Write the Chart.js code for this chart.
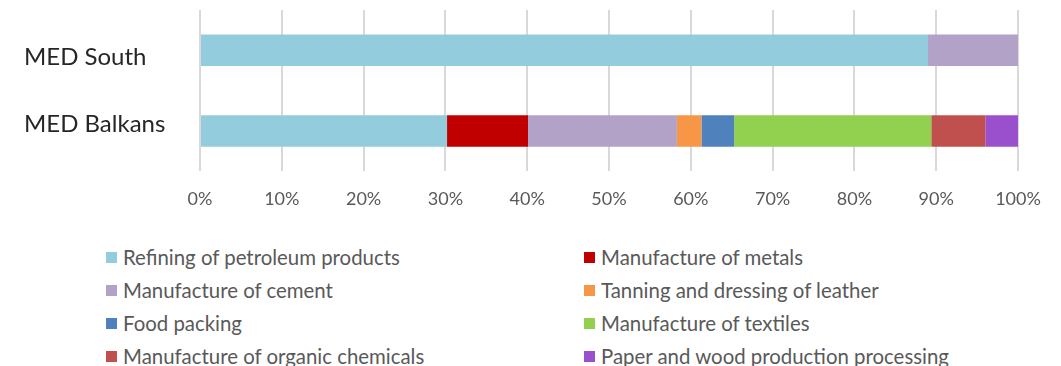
<!DOCTYPE html>
<html>
<head>
<meta charset="utf-8">
<script src="https://cdn.jsdelivr.net/npm/chart.js@4"></script>
<style>
  html, body { margin: 0; padding: 0; background: #fff; overflow: hidden; }
  #wrap { position: relative; width: 1061px; height: 366px; }
  #chart { position: absolute; left: 0; top: 0; }
  #legend {
    position: absolute; left: 106px; top: 245px;
    display: grid; grid-template-columns: 478px 440px; row-gap: 9px;
    font-family: Lato, sans-serif; font-size: 20.4px; color: #595959;
  }
  .item { display: flex; align-items: center; height: 24px; white-space: nowrap; }
  .box { width: 11px; height: 11px; margin-right: 6px; flex: none; }
</style>
</head>
<body>
<div id="wrap">
  <canvas id="chart" width="1061" height="233"></canvas>
  <div id="legend"></div>
</div>
<script>
const regions = ['MED South', 'MED Balkans'];

const sectors = [
  'Refining of petroleum products',
  'Manufacture of metals',
  'Manufacture of cement',
  'Tanning and dressing of leather',
  'Food packing',
  'Manufacture of textiles',
  'Manufacture of organic chemicals',
  'Paper and wood production processing'
];

const sectorColors = [
  '#93CDDD', '#C00000', '#B3A2C7', '#F79646',
  '#4F81BD', '#92D050', '#C0504D', '#9A50CD'
];

// share of each sector (%) per region: [MED South, MED Balkans]
const refining   = [89.0, 30.2];
const metals     = [0, 9.9];
const cement     = [11.0, 18.2];
const leather    = [0, 3.0];
const food       = [0, 4.0];
const textiles   = [0, 24.1];
const organic    = [0, 6.6];
const paper      = [0, 4.0];

const xTicks = [0, 10, 20, 30, 40, 50, 60, 70, 80, 90, 100];

const series = [refining, metals, cement, leather, food, textiles, organic, paper];

const chart = new Chart(document.getElementById('chart'), {
  type: 'bar',
  data: {
    labels: regions,
    datasets: series.map((vals, i) => ({
      label: sectors[i],
      data: vals,
      backgroundColor: sectorColors[i],
      borderWidth: 0,
      barPercentage: 0.39,
      categoryPercentage: 1
    }))
  },
  options: {
    indexAxis: 'y',
    responsive: false,
    animation: false,
    layout: { padding: { left: 24, right: 43, top: 10, bottom: 6 } },
    plugins: { legend: { display: false }, tooltip: { enabled: false } },
    scales: {
      x: {
        stacked: true,
        min: 0,
        max: 100,
        afterBuildTicks: axis => { axis.ticks = xTicks.map(v => ({ value: v })); },
        grid: { color: '#D9D9D9', lineWidth: 2, drawTicks: false },
        border: { display: false },
        ticks: {
          padding: 17,
          color: '#595959',
          font: { family: 'Lato', size: 18 },
          callback: v => v + '%'
        }
      },
      y: {
        stacked: true,
        grid: { display: false },
        border: { display: false },
        afterFit: axis => {
          axis.width = 176;
          axis.paddingTop = 0;
          axis.paddingBottom = 0;
        },
        ticks: {
          crossAlign: 'far',
          color: '#262626',
          font: { family: 'Lato', size: 24, lineHeight: 0.6 },
          // the two names sit a little closer together than the bars
          callback: (v, i) => i === 0 ? ['', regions[i]] : [regions[i], '']
        }
      }
    }
  }
});

// two-column legend under the chart
const legend = document.getElementById('legend');
chart.data.datasets.forEach(ds => {
  const item = document.createElement('div');
  item.className = 'item';
  const box = document.createElement('span');
  box.className = 'box';
  box.style.background = ds.backgroundColor;
  const txt = document.createElement('span');
  txt.textContent = ds.label;
  item.appendChild(box);
  item.appendChild(txt);
  legend.appendChild(item);
});
</script>
</body>
</html>
